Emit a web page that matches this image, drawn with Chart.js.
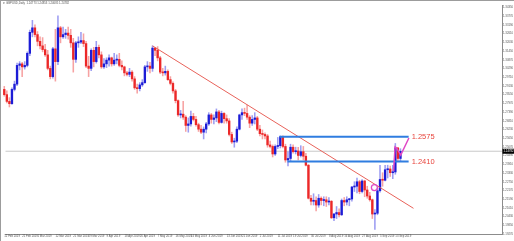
<!DOCTYPE html>
<html><head><meta charset="utf-8">
<script src="https://cdn.jsdelivr.net/npm/chart.js@4/dist/chart.umd.min.js"></script>
<style>html,body{margin:0;padding:0;background:#fff;overflow:hidden}canvas{display:block}</style>
</head><body>
<canvas id="c" width="514" height="241"></canvas>
<script>
// GBPUSD daily, bar index 0 = 12 Feb 2019 ... 155 = 17 Sep 2019
const open = [
1.2890,1.2855,1.2810,1.2795,1.2890,1.2925,1.3050,1.3060,1.3040,1.3050,
1.3130,1.3270,1.3300,1.3255,1.3210,1.3180,1.3155,1.3120,1.3030,1.2975,
1.3160,1.3075,1.3300,1.3240,1.3255,1.3265,1.3250,1.3200,1.3090,1.3200,
1.3205,1.3215,1.3195,1.3045,1.3030,1.3150,1.3075,1.3170,1.3120,1.3040,
1.3060,1.3085,1.3100,1.3060,1.3085,1.3090,1.3050,1.3040,1.3000,1.2990,
1.3005,1.2960,1.2900,1.2895,1.2920,1.2935,1.3040,1.3045,1.3030,1.3165,
1.3150,1.3100,1.3005,1.3000,1.3010,1.2955,1.2930,1.2880,1.2815,1.2720,
1.2725,1.2705,1.2650,1.2660,1.2710,1.2690,1.2655,1.2625,1.2605,1.2625,
1.2660,1.2720,1.2690,1.2700,1.2740,1.2670,1.2730,1.2695,1.2680,1.2590,
1.2540,1.2545,1.2625,1.2720,1.2735,1.2730,1.2705,1.2665,1.2690,1.2700,
1.2625,1.2595,1.2590,1.2580,1.2520,1.2510,1.2460,1.2510,1.2515,1.2575,
1.2510,1.2420,1.2430,1.2505,1.2475,1.2480,1.2450,1.2475,1.2445,1.2385,
1.2165,1.2145,1.2150,1.2120,1.2165,1.2150,1.2155,1.2140,1.2145,1.2035,
1.2060,1.2070,1.2055,1.2150,1.2140,1.2155,1.2160,1.2240,1.2245,1.2275,
1.2210,1.2280,1.2220,1.2180,1.2155,1.2060,1.2065,1.2215,1.2290,1.2285,
1.2355,1.2360,1.2335,1.2340,1.2500,1.2430];
const high = [
1.2910,1.2880,1.2835,1.2900,1.2945,1.3065,1.3075,1.3070,1.3075,1.3140,
1.3285,1.3350,1.3320,1.3275,1.3240,1.3235,1.3190,1.3150,1.3045,1.3170,
1.3290,1.3380,1.3310,1.3305,1.3290,1.3305,1.3290,1.3230,1.3210,1.3240,
1.3270,1.3260,1.3210,1.3110,1.3160,1.3170,1.3210,1.3185,1.3140,1.3095,
1.3100,1.3120,1.3105,1.3130,1.3120,1.3130,1.3080,1.3045,1.3010,1.3030,
1.3015,1.2975,1.2925,1.2935,1.2955,1.3050,1.3075,1.3070,1.3180,1.3170,
1.3175,1.3110,1.3030,1.3045,1.3020,1.2975,1.2940,1.2890,1.2820,1.2750,
1.2810,1.2715,1.2700,1.2745,1.2730,1.2710,1.2665,1.2650,1.2640,1.2670,
1.2735,1.2730,1.2720,1.2760,1.2750,1.2745,1.2735,1.2720,1.2695,1.2605,
1.2565,1.2640,1.2725,1.2760,1.2765,1.2785,1.2715,1.2715,1.2735,1.2710,
1.2650,1.2620,1.2600,1.2590,1.2545,1.2520,1.2520,1.2570,1.2580,1.2580,
1.2525,1.2475,1.2525,1.2520,1.2505,1.2505,1.2515,1.2510,1.2465,1.2390,
1.2185,1.2195,1.2175,1.2190,1.2175,1.2175,1.2175,1.2170,1.2150,1.2065,
1.2110,1.2095,1.2160,1.2170,1.2175,1.2165,1.2245,1.2275,1.2300,1.2285,
1.2290,1.2285,1.2245,1.2205,1.2160,1.2090,1.2230,1.2385,1.2335,1.2385,
1.2385,1.2380,1.2385,1.2530,1.2505,1.2495];
const low = [
1.2845,1.2800,1.2773,1.2790,1.2880,1.2915,1.3020,1.2975,1.3025,1.3040,
1.3115,1.3240,1.3240,1.3180,1.3160,1.3140,1.3110,1.3020,1.2960,1.2965,
1.2945,1.3055,1.3200,1.3230,1.3230,1.3225,1.3170,1.3005,1.3070,1.3170,
1.3195,1.3175,1.3035,1.2975,1.3015,1.3040,1.3065,1.3100,1.3030,1.3030,
1.3035,1.3045,1.3045,1.3050,1.3060,1.3040,1.3020,1.2980,1.2980,1.2975,
1.2945,1.2890,1.2865,1.2880,1.2910,1.2930,1.3010,1.3000,1.3010,1.3115,
1.3080,1.2995,1.2980,1.2985,1.2950,1.2920,1.2865,1.2800,1.2710,1.2700,
1.2690,1.2610,1.2605,1.2645,1.2680,1.2645,1.2610,1.2595,1.2560,1.2600,
1.2650,1.2665,1.2660,1.2675,1.2660,1.2665,1.2665,1.2665,1.2580,1.2530,
1.2505,1.2535,1.2620,1.2690,1.2715,1.2690,1.2635,1.2650,1.2660,1.2615,
1.2580,1.2560,1.2560,1.2505,1.2500,1.2440,1.2450,1.2495,1.2500,1.2500,
1.2405,1.2380,1.2415,1.2465,1.2460,1.2420,1.2440,1.2420,1.2380,1.2160,
1.2120,1.2120,1.2080,1.2105,1.2120,1.2115,1.2110,1.2120,1.2030,1.2015,
1.2030,1.2040,1.2050,1.2115,1.2120,1.2115,1.2145,1.2210,1.2200,1.2195,
1.2200,1.2175,1.2165,1.2145,1.2030,1.1958,1.2055,1.2205,1.2245,1.2280,
1.2300,1.2310,1.2295,1.2325,1.2410,1.2415];
const close = [
1.2855,1.2810,1.2795,1.2890,1.2925,1.3050,1.3060,1.3040,1.3050,1.3130,
1.3270,1.3300,1.3255,1.3210,1.3180,1.3155,1.3120,1.3030,1.2975,1.3160,
1.3075,1.3300,1.3240,1.3255,1.3265,1.3250,1.3200,1.3090,1.3200,1.3205,
1.3215,1.3195,1.3045,1.3030,1.3150,1.3075,1.3170,1.3120,1.3040,1.3060,
1.3085,1.3100,1.3060,1.3085,1.3090,1.3050,1.3040,1.3000,1.2990,1.3005,
1.2960,1.2900,1.2895,1.2920,1.2935,1.3040,1.3045,1.3030,1.3165,1.3150,
1.3100,1.3005,1.3000,1.3010,1.2955,1.2930,1.2880,1.2815,1.2720,1.2725,
1.2705,1.2650,1.2660,1.2710,1.2690,1.2655,1.2625,1.2605,1.2625,1.2660,
1.2720,1.2690,1.2700,1.2740,1.2670,1.2730,1.2695,1.2680,1.2590,1.2540,
1.2545,1.2625,1.2720,1.2735,1.2730,1.2705,1.2665,1.2690,1.2700,1.2625,
1.2595,1.2590,1.2580,1.2520,1.2510,1.2460,1.2510,1.2515,1.2575,1.2510,
1.2420,1.2430,1.2505,1.2475,1.2480,1.2450,1.2475,1.2445,1.2385,1.2165,
1.2145,1.2150,1.2120,1.2165,1.2150,1.2155,1.2140,1.2145,1.2035,1.2060,
1.2070,1.2055,1.2150,1.2140,1.2155,1.2160,1.2240,1.2245,1.2275,1.2210,
1.2280,1.2220,1.2180,1.2155,1.2060,1.2065,1.2215,1.2290,1.2285,1.2355,
1.2360,1.2335,1.2340,1.2500,1.2430,1.2478];

const xTickIdx = [0,7,13,20,27,33,40,47,53,60,67,73,80,87,93,100,107,113,120,127,133,140,147,153];
const xTickLabels = ["12 Feb 2019","21 Feb 2019","1 Mar 2019","12 Mar 2019","21 Mar 2019","29 Mar 2019",
"9 Apr 2019","18 Apr 2019","26 Apr 2019","7 May 2019","16 May 2019","24 May 2019","4 Jun 2019",
"13 Jun 2019","21 Jun 2019","2 Jul 2019","11 Jul 2019","19 Jul 2019","30 Jul 2019","8 Aug 2019",
"16 Aug 2019","27 Aug 2019","5 Sep 2019","13 Sep 2019"];
const yTickValues = [1.34350,1.33770,1.33190,1.32610,1.32030,1.31450,1.30870,1.30290,1.29710,
1.29130,1.28550,1.27970,1.27390,1.26810,1.26230,1.25650,1.25070,1.24490,1.23910,1.23330,
1.22750,1.22170,1.21590,1.21010,1.20430,1.19850,1.19270];

const trendIdx = [58, 160.1];
const trendPrice = [1.3180, 1.2098];
const levelValues = [1.2575, 1.2410];
const levelLabels = ["1.2575", "1.2410"];
const levelStartIdx = [107.7, 110.8];
const levelEndIdx = 158.2;
const levelLabelIdx = 159.4;
const forecastIdx = [152.3, 152.9, 153.5, 155.1, 158.3];
const forecastPrice = [1.2347, 1.2507, 1.2500, 1.2452, 1.2566];
const breakoutIdx = [144.8];
const breakoutPrice = [1.2236];
const lastPrice = 1.24782;
const headerText = "\u25BC GBPUSD,Daily  1.24773 1.24853 1.24685 1.24782";

const X_MIN = 0.4, X_MAX = 194.73, Y_MIN = 1.1927, Y_MAX = 1.3450;

const bull = close.map((c, i) => c >= open[i]);
const bodyData = close.map((c, i) => ({x: i, y: [open[i], c]}));
const wickData = close.map((c, i) => ({x: i, y: [low[i], high[i]]}));

const overlay = {
  id: 'overlay',
  afterDraw(chart) {
    const {ctx, scales: {x, y}, chartArea: a} = chart;
    ctx.save();
    ctx.strokeStyle = '#9c9c9c'; ctx.lineWidth = 1;
    ctx.beginPath();
    ctx.moveTo(0, 0.5); ctx.lineTo(chart.width, 0.5);
    ctx.moveTo(0.5, 0); ctx.lineTo(0.5, chart.height);
    ctx.stroke();
    ctx.textAlign = 'left'; ctx.textBaseline = 'middle';
    ctx.fillStyle = '#555'; ctx.font = '2.8px Arial';
    ctx.fillText(headerText, 2.5, 3.6);
    ctx.fillStyle = '#e8463e'; ctx.font = '7.5px Arial';
    levelLabels.forEach((t, i) => ctx.fillText(t, x.getPixelForValue(levelLabelIdx), y.getPixelForValue(levelValues[i])));
    const py = y.getPixelForValue(lastPrice);
    ctx.fillStyle = '#000';
    ctx.fillRect(a.right + 0.5, py - 2.5, chart.width - a.right, 5);
    ctx.fillStyle = '#fff'; ctx.font = '2.8px Arial';
    ctx.fillText(lastPrice.toFixed(5), a.right + 1.5, py);
    ctx.restore();
  }
};

new Chart(document.getElementById('c'), {
  type: 'bar',
  data: {
    datasets: [
      {type: 'line', data: forecastIdx.map((v, i) => ({x: v, y: forecastPrice[i]})),
       borderColor: '#e04ac6', borderWidth: 1.5, pointRadius: 0, order: 0},
      {type: 'line', data: breakoutIdx.map((v, i) => ({x: v, y: breakoutPrice[i]})), showLine: false,
       pointRadius: 3, pointBorderColor: '#e04ac6', pointBackgroundColor: 'rgba(0,0,0,0)', pointBorderWidth: 1.3, order: 0},
      {type: 'line', data: [{x: levelStartIdx[0], y: levelValues[0]}, {x: levelEndIdx, y: levelValues[0]}],
       borderColor: '#2f7de0', borderWidth: 2, pointRadius: 0, order: 1},
      {type: 'line', data: [{x: levelStartIdx[1], y: levelValues[1]}, {x: levelEndIdx, y: levelValues[1]}],
       borderColor: '#2f7de0', borderWidth: 2, pointRadius: 0, order: 1},
      {type: 'line', data: trendIdx.map((v, i) => ({x: v, y: trendPrice[i]})),
       borderColor: '#e8625a', borderWidth: 1, pointRadius: 0, order: 2},
      {type: 'bar', data: bodyData, backgroundColor: bull.map(b => b ? '#1c1cd6' : '#ec2828'),
       barThickness: 1.7, minBarLength: 1, grouped: false, clip: false, order: 4},
      {type: 'bar', data: wickData, backgroundColor: bull.map(b => b ? 'rgba(60,60,230,0.5)' : 'rgba(240,70,70,0.5)'),
       barThickness: 0.9, grouped: false, clip: false, order: 5},
      {type: 'line', data: [{x: X_MIN, y: lastPrice}, {x: X_MAX, y: lastPrice}],
       borderColor: '#c8c8c8', borderWidth: 1, pointRadius: 0, order: 6}
    ]
  },
  options: {
    responsive: false, animation: false, devicePixelRatio: 1,
    layout: {padding: {top: 2, left: 2, right: 0, bottom: 0}},
    plugins: {legend: {display: false}, tooltip: {enabled: false}, title: {display: false}},
    scales: {
      x: {
        type: 'linear', min: X_MIN, max: X_MAX, offset: false, bounds: 'data',
        grid: {display: false, drawTicks: false, offset: false},
        border: {display: true, color: '#8c8c8c'},
        afterBuildTicks: s => { s.ticks = xTickIdx.map(v => ({value: v})); },
        afterFit: s => { s.height = 7; },
        ticks: {autoSkip: false, maxRotation: 0, minRotation: 0, align: 'start', padding: 1,
                font: {size: 2.8, family: 'Arial'}, color: '#555',
                callback: (v, i) => xTickLabels[i]}
      },
      y: {
        type: 'linear', position: 'right', min: Y_MIN, max: Y_MAX, bounds: 'data',
        grid: {display: false, drawTicks: false},
        border: {display: true, color: '#8c8c8c'},
        afterBuildTicks: s => { s.ticks = yTickValues.map(v => ({value: v})); },
        afterFit: s => { s.width = 12; },
        ticks: {autoSkip: false, padding: 1, font: {size: 2.8, family: 'Arial'}, color: '#555',
                callback: v => Number(v).toFixed(5)}
      }
    }
  },
  plugins: [overlay]
});
</script>
</body></html>
